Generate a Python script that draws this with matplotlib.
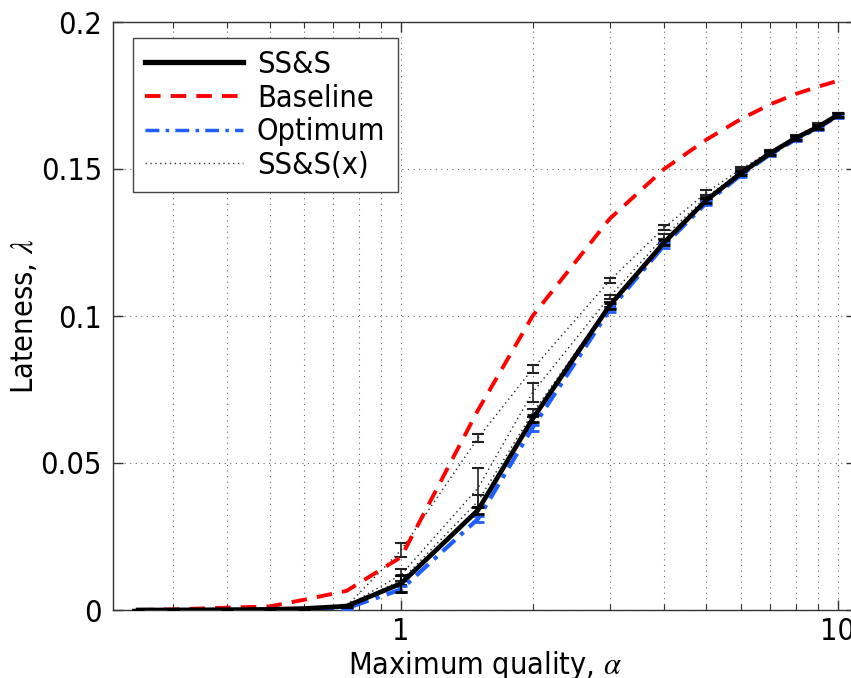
import numpy as np
import matplotlib
matplotlib.use("Agg")
import matplotlib.pyplot as plt
from matplotlib import font_manager
from matplotlib.ticker import FixedLocator, FixedFormatter, LogLocator, NullFormatter

# pick a narrow sans if one is installed
fam = 'Liberation Sans'
stretch = 'normal'
for name, st in [('Liberation Sans Narrow', 'normal'), ('DejaVu Sans', 'condensed')]:
    try:
        path = font_manager.findfont(font_manager.FontProperties(family=name, stretch=st),
                                     fallback_to_default=False)
        if 'Narrow' in path or 'Condensed' in path:
            fam, stretch = name, st
            break
    except Exception:
        pass
plt.rcParams['font.family'] = [fam, 'DejaVu Sans']
plt.rcParams['font.stretch'] = stretch
plt.rcParams['mathtext.fontset'] = 'stix'
narrow = stretch == 'condensed' or 'Narrow' in fam

# ---------------------------------------------
# Data
# ---------------------------------------------
alpha = [0.25, 0.3, 0.4, 0.5, 0.6, 0.75, 1, 1.5, 2, 3, 4, 5, 6, 7, 8, 9, 10]

baseline = [0.0, 0.0002, 0.0008, 0.0012, 0.0035, 0.0065, 0.018, 0.068, 0.100, 0.133,
            0.150, 0.160, 0.167, 0.172, 0.1755, 0.178, 0.180]

sss = [0.0, 0.0, 0.0001, 0.0002, 0.0005, 0.0013, 0.009, 0.034, 0.065, 0.1035,
       0.125, 0.1394, 0.1486, 0.1554, 0.1605, 0.1643, 0.1684]
sss_err = [0.0, 0.0, 0.0, 0.0, 0.0, 0.0004, 0.003, 0.0012, 0.0012, 0.001,
           0.0009, 0.0008, 0.0008, 0.0007, 0.0006, 0.0006, 0.0006]

optimum = [0.0, 0.0, 0.0, 0.0001, 0.0003, 0.0006, 0.007, 0.031, 0.062, 0.102,
           0.124, 0.1385, 0.148, 0.155, 0.160, 0.164, 0.168]
optimum_err = [0.0, 0.0, 0.0, 0.0, 0.0, 0.0003, 0.001, 0.001, 0.001, 0.0008,
               0.0008, 0.0007, 0.0007, 0.0006, 0.0006, 0.0006, 0.0006]

ssx_upper = [0.0, 0.0, 0.0001, 0.0002, 0.0005, 0.0013, 0.0204, 0.0585, 0.082, 0.112,
             0.130, 0.142, 0.150, 0.156, 0.161, 0.165, 0.1685]
ssx_upper_err = [0.0, 0.0, 0.0, 0.0, 0.0, 0.0003, 0.0024, 0.0012, 0.0015, 0.0008,
                 0.0008, 0.0008, 0.0007, 0.0006, 0.0006, 0.0006, 0.0006]

ssx_mid = [0.0, 0.0, 0.0001, 0.0002, 0.0005, 0.0013, 0.012, 0.0415, 0.074, 0.1065,
           0.127, 0.1405, 0.1492, 0.1558, 0.1607, 0.1645, 0.1685]
ssx_mid_err = [0.0, 0.0, 0.0, 0.0, 0.0, 0.0003, 0.002, 0.0067, 0.0032, 0.0008,
               0.0008, 0.0008, 0.0007, 0.0006, 0.0006, 0.0006, 0.0006]

ssx_low = [0.0, 0.0, 0.0001, 0.0002, 0.0005, 0.0013, 0.010, 0.037, 0.067, 0.104,
           0.1255, 0.1398, 0.1488, 0.1555, 0.1606, 0.1644, 0.1684]
ssx_low_err = [0.0, 0.0, 0.0, 0.0, 0.0, 0.0003, 0.0015, 0.002, 0.0015, 0.0008,
               0.0008, 0.0007, 0.0007, 0.0006, 0.0006, 0.0006, 0.0006]

yticks = [0, 0.05, 0.1, 0.15, 0.2]
ytick_labels = ['0', '0.05', '0.1', '0.15', '0.2']

# ---------------------------------------------
# Plot
# ---------------------------------------------
fig = plt.figure(figsize=(8.51, 6.78), dpi=100)
ax = fig.add_axes([113 / 851, 68 / 678, 743 / 851, 588 / 678])

fs = 22 if narrow else 19.5
blue = '#1f5fff'

for ys, es in [(ssx_upper, ssx_upper_err), (ssx_mid, ssx_mid_err), (ssx_low, ssx_low_err)]:
    ax.errorbar(alpha, ys, yerr=es, color='#222222', lw=1.0, ls=(0, (1, 2.5)),
                elinewidth=1.2, capsize=4, capthick=1.5, zorder=2)

ax.plot(alpha, baseline, color='red', lw=2.8, dashes=(4, 2.6), zorder=3)

ax.errorbar(alpha, optimum, yerr=optimum_err, color=blue, lw=3.0, dashes=(4, 1.8, 1, 1.8),
            elinewidth=1.5, capsize=4, capthick=2, zorder=4)
ax.errorbar(alpha, sss, yerr=sss_err, color='black', lw=3.4, elinewidth=1.5,
            capsize=4, capthick=2, zorder=5)

# legend proxies
h1, = ax.plot([], [], color='black', lw=3.8)
h2, = ax.plot([], [], color='red', lw=2.8, dashes=(4, 2.6))
h3, = ax.plot([], [], color=blue, lw=2.5, dashes=(4, 1.8, 1, 1.8))
h4, = ax.plot([], [], color='#333333', lw=1.0, ls=(0, (1, 2.5)))
leg = ax.legend([h1, h2, h3, h4], ['SS&S', 'Baseline', 'Optimum', 'SS&S(x)'],
                loc='upper left', bbox_to_anchor=(0.027, 0.973), fontsize=fs,
                handlelength=3.2 if narrow else 3.4, handletextpad=0.45,
                labelspacing=0.15 if narrow else 0.2,
                borderpad=0.4, fancybox=False, framealpha=1, borderaxespad=0)
leg.get_frame().set_edgecolor('#444444')
leg.get_frame().set_linewidth(1.0)

ax.set_xscale('log')
ax.set_xlim(0.219, 11)
ax.set_ylim(0, 0.2)

ax.xaxis.set_major_locator(FixedLocator([1, 10]))
ax.xaxis.set_major_formatter(FixedFormatter(['1', '10']))
ax.xaxis.set_minor_locator(LogLocator(base=10, subs=np.arange(2, 10)))
ax.xaxis.set_minor_formatter(NullFormatter())
ax.yaxis.set_major_locator(FixedLocator(yticks))
ax.yaxis.set_major_formatter(FixedFormatter(ytick_labels))

ax.tick_params(which='both', direction='in', top=True, right=True, labelsize=fs, color='#333333')
ax.tick_params(which='major', length=7, width=1.0, pad=8)
ax.tick_params(axis='x', which='major', pad=5)
ax.tick_params(which='minor', length=4, width=0.8)

ax.grid(True, which='major', ls=(0, (1, 4)), color='#666666', lw=0.8)
ax.grid(True, which='minor', axis='x', ls=(0, (1, 4)), color='#666666', lw=0.8)
for s in ax.spines.values():
    s.set_color('#333333')
    s.set_linewidth(1.0)

ax.set_xlabel(r'Maximum quality, $\alpha$', fontsize=fs)
ax.set_ylabel(r'Lateness, $\lambda$', fontsize=fs)
ax.xaxis.set_label_coords(0.5, -0.066)
ax.yaxis.set_label_coords(-0.1, 0.5)

fig.savefig('out.png', dpi=100)
